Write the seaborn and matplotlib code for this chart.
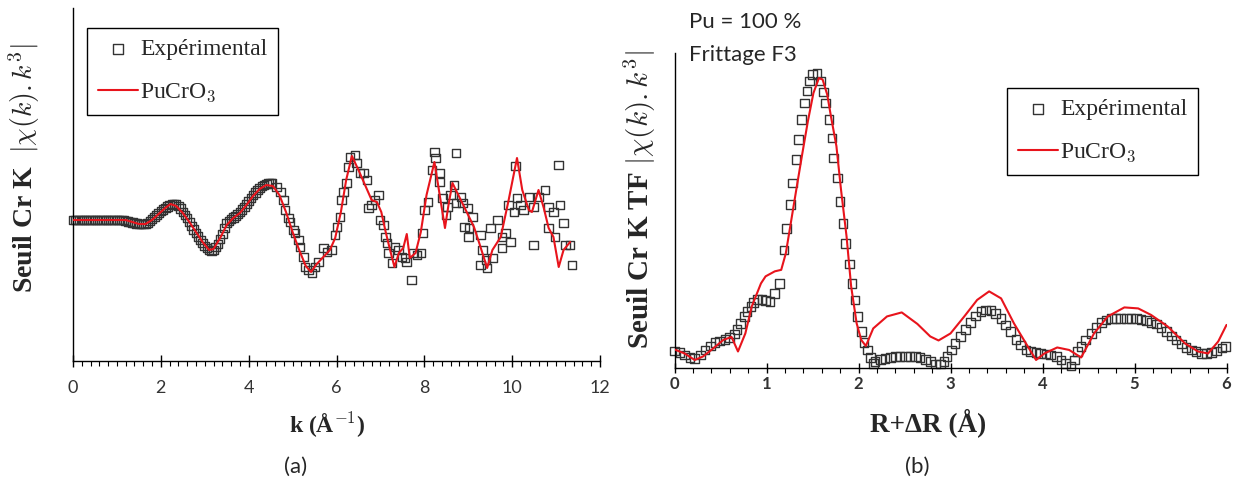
import numpy as np
import pandas as pd
import matplotlib
matplotlib.use("Agg")
import matplotlib.pyplot as plt
import matplotlib.ticker as mticker
import seaborn as sns

sns.set_theme(style="white")
plt.rcParams['font.family'] = ['Lato', 'DejaVu Sans']
plt.rcParams['mathtext.fontset'] = 'cm'

RED = '#e8141c'
SQ = '#333333'
SERIF = 'Liberation Serif'

# (a) chi(k).k^3, arbitrary units (0 = baseline)
k_exp = [0.0, 0.05, 0.1, 0.15, 0.2, 0.25, 0.3, 0.35, 0.4, 0.45, 0.5, 0.55, 0.6, 0.65, 0.7,
         0.75, 0.8, 0.85, 0.9, 0.95, 1.0, 1.05, 1.1, 1.15, 1.2, 1.25, 1.3, 1.35, 1.4, 1.45,
         1.5, 1.55, 1.6, 1.65, 1.7, 1.75, 1.8, 1.85, 1.9, 1.95, 2.0, 2.05, 2.1, 2.15, 2.2,
         2.25, 2.3, 2.35, 2.4, 2.45, 2.5, 2.55, 2.6, 2.65, 2.7, 2.75, 2.8, 2.85, 2.9, 2.95,
         3.0, 3.05, 3.1, 3.15, 3.2, 3.25, 3.3, 3.35, 3.4, 3.45, 3.5, 3.55, 3.6, 3.65, 3.7,
         3.75, 3.8, 3.85, 3.9, 3.95, 4.0, 4.05, 4.1, 4.15, 4.2, 4.25, 4.3, 4.35, 4.4, 4.45,
         4.5,
         4.53, 4.64, 4.72, 4.79, 4.83, 4.91, 4.94, 5.02, 5.06, 5.13, 5.17, 5.25, 5.28, 5.36,
         5.44, 5.51, 5.59, 5.70, 5.78, 5.89, 5.97, 6.01, 6.08, 6.12, 6.16, 6.23, 6.27, 6.31,
         6.42, 6.46, 6.54, 6.61, 6.69, 6.73, 6.80, 6.88, 6.95, 6.99, 7.07, 7.11, 7.15, 7.18,
         7.26, 7.33, 7.41, 7.49, 7.56, 7.60, 7.71, 7.75, 7.83,
         7.92, 7.96, 8.0, 8.08, 8.17, 8.23, 8.26, 8.34, 8.34, 8.42, 8.49, 8.53, 8.6, 8.68,
         8.72, 8.72, 8.83, 8.87, 8.98, 8.91, 9.02, 9.1, 9.0, 9.28, 9.51, 9.66, 9.32, 9.4,
         9.28, 9.43, 9.55, 9.77, 9.77, 9.96, 9.85, 10.08, 9.92, 10.04, 10.11, 10.19, 10.26,
         10.38, 10.49, 10.6, 10.75, 10.83, 10.94, 11.09, 11.17, 11.06, 10.49, 10.83, 10.98,
         11.21, 11.32, 11.36]
chi_exp = [0, 0, 0, 0, 0, 0, 0, 0, 0, 0, 0, 0, 0, 0, 0,
           0, 0, 0, 0, 0, 0, 0, 0, 0, -1, -1.5, -2, -2.5, -3, -3.5,
           -4, -4, -4, -4, -3, -1, 1, 3, 5, 7, 9, 10.5, 12, 13.5, 15,
           16, 16, 15.5, 14, 11.5, 8, 5, 2, -2, -6, -9.5, -13, -16.5, -20, -23,
           -26, -28, -30, -31, -30, -27, -24, -19, -14, -8, -3, -1, 1, 2.5, 4,
           6, 8, 10.5, 13, 16, 19, 22, 25, 27.5, 30, 32, 34, 35, 36, 36.5,
           37,
           37, 33, 28, 20, 10, 2, -2, -10, -13, -20, -27, -37, -47, -50,
           -53, -47, -42, -28, -32, -30, -15, -7, 3, 20, 28, 37, 53, 63,
           65, 57, 47, 47, 40, 12, 15, 20, 25, 0, -5, -17, -23, -33,
           -43, -27, -30, -37, -38, -42, -60, -33, -35,
           -33, -13, 10, 18, 50, 68, 62, 47, 38, 22, 5, 13, 25, 35,
           67, 17, 23, 17, 12, -7, -8, 3, -17, -15, -8, 0, -30, -40,
           -45, -48, -38, -17, -28, -22, -13, 54, 15, 8, 22, 15, 10,
           23, 13, 23, 30, 13, 8, 15, -3, 55, -25, -8, -17,
           -25, -25, -45]

k_fit = [0.0, 0.5, 1.0, 1.2, 1.35, 1.5, 1.65, 1.8, 1.95, 2.1, 2.22, 2.35, 2.5, 2.65, 2.8,
         2.95, 3.1, 3.2, 3.35, 3.5, 3.65, 3.8, 3.95, 4.1, 4.25, 4.4, 4.55, 4.7, 4.85, 5.0,
         5.15, 5.3, 5.42, 5.55, 5.7, 5.85, 5.97, 6.1, 6.22, 6.35, 6.5, 6.65, 6.8, 6.92,
         7.02, 7.12, 7.22, 7.32, 7.42, 7.52, 7.6, 7.67, 7.8, 7.92, 8.05, 8.23, 8.35, 8.47,
         8.55, 8.64, 8.83, 9.02, 9.13, 9.25, 9.43, 9.55, 9.74, 9.92, 10.11, 10.23, 10.38,
         10.45, 10.6, 10.72, 10.83, 10.94, 11.06, 11.17, 11.32]
chi_fit = [0, 0, 0, 0, -2, -4, -4, 0, 6, 12, 16, 14, 7, -2, -12,
           -22, -30, -29, -18, -5, 2, 7, 15, 24, 31, 35, 34, 25, 8, -12,
           -30, -46, -52, -44, -37, -30, -18, 8, 40, 64, 50, 35, 20, 18,
           8, -12, -30, -47, -33, -28, -14, -38, -33, -12, 25, 58, 25, -8,
           15, 37, 20, 3, -7, -23, -48, -30, -17, 20, 62, 30, 10,
           8, 30, 12, -8, -17, -47, -30, -22]

# (b) |TF|, arbitrary units
r_exp = [0.0, 0.06, 0.11, 0.17, 0.22, 0.28, 0.33, 0.39, 0.44, 0.49, 0.55, 0.60, 0.65, 0.68,
         0.72, 0.76, 0.79, 0.83, 0.86, 0.90, 0.95, 0.99, 1.04, 1.09, 1.14, 1.19, 1.22, 1.26,
         1.28, 1.32, 1.35, 1.38, 1.41, 1.44, 1.47, 1.50, 1.55, 1.59, 1.62, 1.64, 1.68, 1.71,
         1.73, 1.77, 1.80, 1.83, 1.86, 1.90, 1.93, 1.96, 1.99, 2.03, 2.06, 2.10, 2.13, 2.16,
         2.18, 2.24, 2.29, 2.35, 2.40, 2.45, 2.51, 2.56, 2.62, 2.67, 2.73, 2.78, 2.84, 2.89,
         2.93, 2.96, 3.01, 3.05, 3.11, 3.16, 3.22, 3.27, 3.33, 3.38, 3.44, 3.49, 3.55, 3.60,
         3.65, 3.71, 3.76, 3.82, 3.87, 3.93, 3.98, 4.04, 4.09, 4.15, 4.20, 4.25, 4.31, 4.35,
         4.38, 4.42, 4.47, 4.53, 4.58, 4.64, 4.69, 4.75, 4.80, 4.85, 4.91, 4.96, 5.02, 5.07,
         5.13, 5.18, 5.24, 5.29, 5.35, 5.40, 5.45, 5.51, 5.56, 5.62, 5.67, 5.73, 5.78, 5.84,
         5.89, 5.95, 5.99]
tf_exp = [16.5, 15, 12.5, 10, 9, 12.5, 17.5, 21.5, 25, 26.5, 28, 30, 33.5, 38,
          44, 51, 56, 61, 65, 68, 68, 67, 66, 74, 84, 117.5, 139, 162.5,
          184, 207.5, 227.5, 247.5, 264, 276, 286, 292.5, 293.5, 286, 275, 264, 247.5, 229,
          209, 189, 166, 144, 124, 103.5, 84, 67.5, 51, 36, 25, 17.5, 10, 4,
          6, 8, 9, 10, 11, 11, 11, 11, 11, 10, 8, 6, 3.5, 3.5,
          6, 11, 17.5, 24, 31, 38, 45, 51.5, 56, 57.5, 57, 54, 49, 42.5,
          36, 28, 22.5, 17.5, 16, 15, 14, 13.5, 12.5, 11, 7.5, 4, 1.5, 7.5,
          16, 21, 27.5, 34, 40, 45, 47.5, 49, 49, 49, 49, 49, 49, 48,
          47, 45, 43.5, 40, 36, 31.5, 27.5, 23.5, 20, 17.5, 16, 14, 14, 15,
          16.5, 19.5, 21]

r_fit = [0.0, 0.11, 0.22, 0.31, 0.42, 0.53, 0.62, 0.69, 0.77, 0.84, 0.94, 0.99, 1.09, 1.16,
         1.21, 1.27, 1.33, 1.39, 1.45, 1.51, 1.57, 1.61, 1.66, 1.70, 1.76, 1.81, 1.87, 1.92,
         1.98, 2.03, 2.08, 2.16, 2.31, 2.47, 2.64, 2.78, 2.87, 3.0, 3.15, 3.29, 3.42, 3.55,
         3.69, 3.84, 3.93, 4.02, 4.16, 4.29, 4.42, 4.56, 4.71, 4.89, 5.04, 5.18, 5.36, 5.55,
         5.69, 5.80, 5.91, 6.0]
tf_fit = [18, 14, 7.5, 11, 19, 27.5, 30.5, 16, 34, 61, 84, 91, 96, 97.5,
          114, 147.5, 181, 214, 246, 274, 289, 287.5, 272.5, 251, 221, 177.5, 131, 81,
          44, 27.5, 21.5, 39, 51, 55, 43.5, 31, 27, 34, 51, 67.5, 76, 69,
          44, 21, 7.5, 14, 20, 17.5, 10, 34, 51, 60, 59, 52.5, 41, 24,
          16, 14, 26, 42.5]

W, H = 1233, 484
fig = plt.figure(figsize=(W / 100, H / 100), dpi=100, facecolor='white')
axL = fig.add_axes([73 / W, 1 - 361 / H, 527 / W, 353 / H])
axR = fig.add_axes([674.5 / W, 1 - 367.5 / H, 552 / W, 314.5 / H])

panels = [
    (axL, k_exp, chi_exp, k_fit, chi_fit),
    (axR, r_exp, tf_exp, r_fit, tf_fit),
]
for ax, xe, ye, xf, yf in panels:
    sns.scatterplot(x=xe, y=ye, ax=ax, marker='s', s=38, color='none',
                    edgecolor=SQ, linewidth=1.0, label='Expérimental',
                    clip_on=False, zorder=2)
    sns.lineplot(x=xf, y=yf, ax=ax, color=RED, linewidth=1.5, sort=False,
                 label='PuCrO$_3$', zorder=3)
    ax.set_facecolor('white')
    for s in ['top', 'right']:
        ax.spines[s].set_visible(False)
    for s in ['left', 'bottom']:
        ax.spines[s].set_color('black')
        ax.spines[s].set_linewidth(1.0)
    ax.set_yticks([])

axL.set_xlim(0, 12)
axL.set_ylim(-141, 212)
axL.xaxis.set_major_locator(mticker.MultipleLocator(2))
axL.xaxis.set_minor_locator(mticker.MultipleLocator(0.2))
axL.tick_params(axis='x', which='major', direction='inout', length=8.6, width=1.0,
                color='black', bottom=True, pad=9.4, labelsize=13, labelcolor='#333333')
axL.tick_params(axis='x', which='minor', direction='out', length=3.6, width=0.8,
                color='black', bottom=True)

axR.set_xlim(0, 6)
axR.set_ylim(0, 314)
axR.xaxis.set_major_locator(mticker.MultipleLocator(1))
axR.xaxis.set_minor_locator(mticker.MultipleLocator(0.2))
axR.tick_params(axis='x', which='major', direction='inout', length=7, width=1.0,
                color='black', bottom=True, pad=2.3, labelsize=12, labelcolor='#333333')
axR.tick_params(axis='x', which='minor', direction='out', length=3.6, width=0.8,
                color='black', bottom=True)
for lab in axR.get_xticklabels():
    lab.set_fontweight('bold')

axL.set_ylabel(r'Seuil Cr K  $|\chi(k).k^3|$', family=SERIF, weight='bold', size=20)
axL.yaxis.label.set_va('center')
axL.yaxis.set_label_coords(-0.092, 0.547)
axL.set_xlabel(r'k (Å$^{\mathbf{-1}}$)', family=SERIF, weight='bold', size=17)
axL.xaxis.label.set_va('center')
axL.xaxis.set_label_coords(0.483, -0.181)
axR.set_ylabel(r'Seuil Cr K TF $|\chi(k).k^3|$', family=SERIF, weight='bold', size=21)
axR.yaxis.label.set_va('center')
axR.yaxis.set_label_coords(-0.0625, 0.533)
axR.set_xlabel('R+ΔR (Å)', family=SERIF, weight='bold', size=19.5)
axR.xaxis.label.set_va('center')
axR.xaxis.set_label_coords(0.459, -0.176)

for ax, x0, y0 in [(axL, 87, 28), (axR, 1007, 88)]:
    h, l = ax.get_legend_handles_labels()
    leg = ax.legend(h, l, loc='upper left', bbox_to_anchor=(x0 / W, 1 - y0 / H),
                    bbox_transform=fig.transFigure, prop={'family': SERIF, 'size': 17},
                    frameon=True, fancybox=False, edgecolor='black', framealpha=1,
                    borderpad=0.45, handlelength=1.7, handletextpad=0.1,
                    labelspacing=0.9, borderaxespad=0, markerscale=1.2)
    leg.get_frame().set_linewidth(1.0)

fig.text(689 / W, 1 - 22 / H, 'Pu = 100 %', fontsize=16, va='center', ha='left')
fig.text(689 / W, 1 - 55 / H, 'Frittage F3', fontsize=16, va='center', ha='left')
fig.text(296 / W, 1 - 467 / H, '(a)', fontsize=16, va='center', ha='center')
fig.text(917 / W, 1 - 467 / H, '(b)', fontsize=16, va='center', ha='center')

fig.savefig('out.png', dpi=100, facecolor='white')
